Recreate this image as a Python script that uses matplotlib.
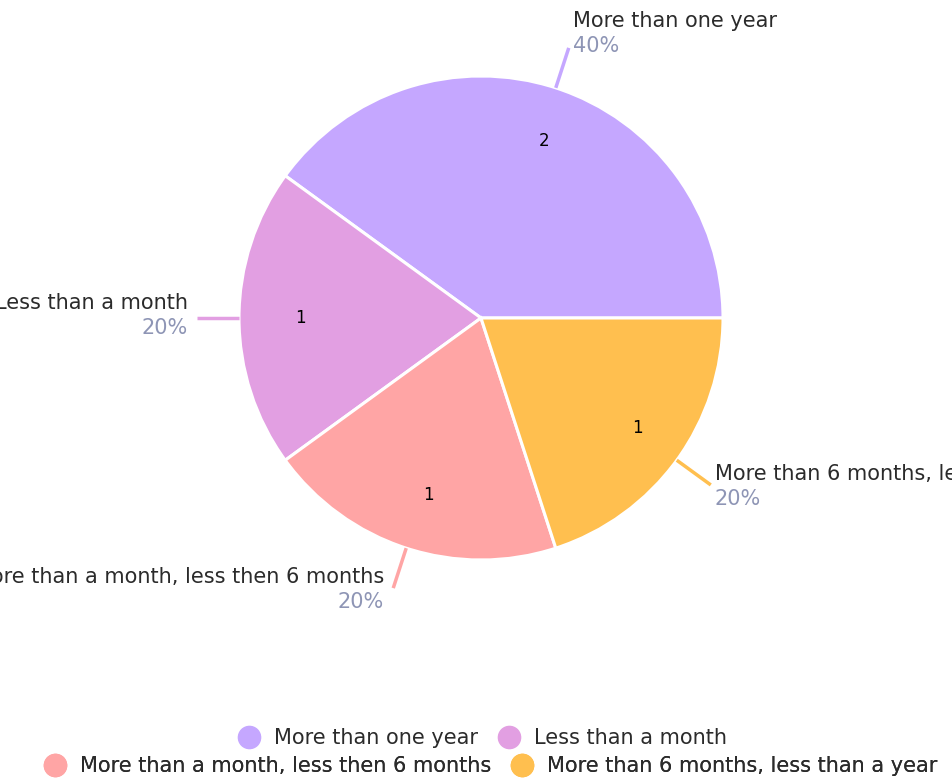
import numpy as np
import matplotlib
matplotlib.use("Agg")
import matplotlib.pyplot as plt
from matplotlib.lines import Line2D

categories = ["More than one year", "Less than a month",
              "More than a month, less then 6 months",
              "More than 6 months, less than a year"]
counts = [2, 1, 1, 1]
colors = ["#c5a7ff", "#e29fe2", "#ffa5a5", "#ffbf4f"]

plt.rcParams['font.family'] = ['DejaVu Sans']

W, H = 952, 778
fig = plt.figure(figsize=(W / 100, H / 100), dpi=100)
ax = fig.add_axes([0, 0, 1, 1])

cx, cy, R = 481, H - 318, 242
total = sum(counts)
wedges, texts = ax.pie(counts, colors=colors, startangle=0, counterclock=True,
                       center=(cx, cy), radius=R, labels=[str(c) for c in counts],
                       labeldistance=0.77, frame=True,
                       wedgeprops=dict(edgecolor='white', linewidth=2.2),
                       textprops=dict(fontsize=12, color='black'))
ax.set_xlim(0, W)
ax.set_ylim(0, H)
ax.set_aspect('equal')
ax.axis('off')

# outer labels with leader lines
for w, name, c, col in zip(wedges, categories, counts, colors):
    ang = np.deg2rad((w.theta1 + w.theta2) / 2)
    x0, y0 = cx + R * np.cos(ang), cy + R * np.sin(ang)
    x1, y1 = cx + (R + 42) * np.cos(ang), cy + (R + 42) * np.sin(ang)
    ax.plot([x0, x1], [y0, y1], color=col, lw=2.5, solid_capstyle='butt')
    right = np.cos(ang) >= 0
    ha = 'left' if right else 'right'
    tx = x1 + (4 if right else -9)
    ty = y1 + (12 if np.sin(ang) > 0.5 else 0) - (4 if np.sin(ang) < -0.5 else 0)
    ax.text(tx, ty + 5, name, ha=ha, va='bottom', fontsize=15, color='#2b2b2b')
    ax.text(tx, ty, f"{c / total:.0%}", ha=ha, va='top', fontsize=15, color='#8e95b5')

# legend in two centered rows
def handle(col):
    return Line2D([], [], marker='o', ls='none', markersize=16,
                  markerfacecolor=col, markeredgecolor=col)

rows = [[0, 1], [2, 3]]
for i, (row, yy, xx) in enumerate(zip(rows, [738, 766], [481.5, 490])):
    leg = ax.legend([handle(colors[j]) for j in row], [categories[j] for j in row],
                    loc='center', bbox_to_anchor=(xx / W, 1 - yy / H),
                    bbox_transform=fig.transFigure, ncol=2, frameon=False,
                    fontsize=15, handletextpad=0.6, columnspacing=0.9,
                    handlelength=1.2, borderpad=0, labelcolor='#2b2b2b')
    ax.add_artist(leg)

fig.savefig("out.png", dpi=100)
